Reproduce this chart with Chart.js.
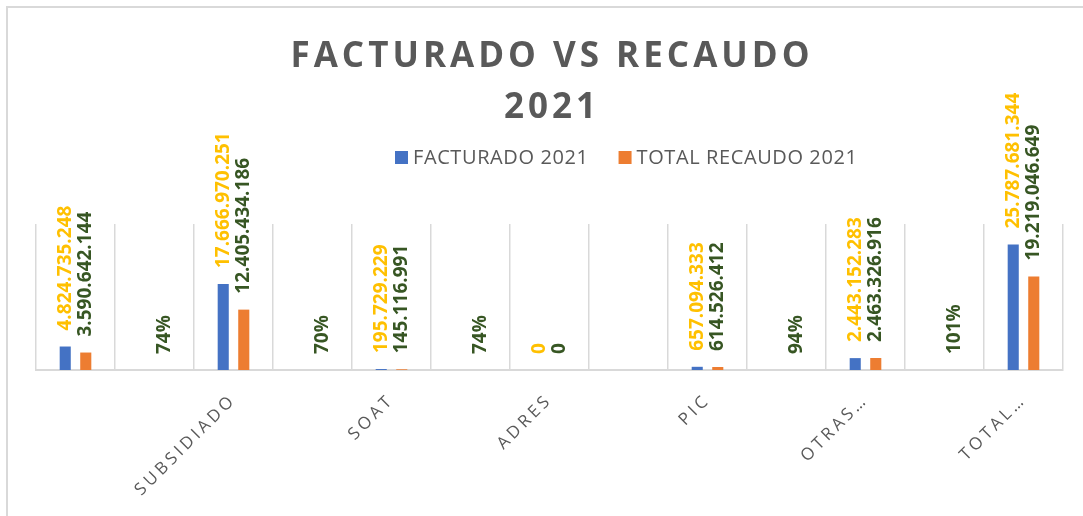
<!DOCTYPE html>
<html>
<head>
<meta charset="utf-8">
<script src="https://cdn.jsdelivr.net/npm/chart.js@4/dist/chart.umd.min.js"></script>
<style>
  body { margin: 0; background: #ffffff; }
  canvas { display: block; }
</style>
</head>
<body>
<canvas id="myChart" width="1083" height="516"></canvas>
<script>
// categories as they show on the axis (the "%" rows have no label)
var categories = ["", "", "SUBSIDIADO", "", "SOAT", "", "ADRES", "", "PIC", "", "OTRAS…", "", "TOTAL…"];
var facturado = [4824735248, null, 17666970251, null, 195729229, null, 0, null, 657094333, null, 2443152283, null, 25787681344];
var recaudo = [3590642144, null, 12405434186, null, 145116991, null, 0, null, 614526412, null, 2463326916, null, 19219046649];
var porcentaje = [null, 0.74, null, 0.70, null, 0.74, null, null, null, 0.94, null, 1.01, null];
var seriesNames = ["FACTURADO 2021", "TOTAL RECAUDO 2021"];
var seriesColors = ["#4472C4", "#ED7D31"];
var labelColors = ["#FFC000", "#375623"];
var titleLines = ["FACTURADO VS RECAUDO", "2021"];

// percentages live in the recaudo series, like the sheet does
var recaudoData = recaudo.map(function(v, i) {
  return v !== null ? v : porcentaje[i];
});

function formatValue(v)
{
  if (v > 0 && v < 5)
    return Math.round(v * 100) + "%";
  return String(v).replace(/\B(?=(\d{3})+(?!\d))/g, ".");
}

var frame = {
  id: "frame",
  beforeDraw: function(chart) {
    var ctx = chart.ctx;
    ctx.save();
    ctx.fillStyle = "#ffffff";
    ctx.fillRect(0, 0, chart.width, chart.height);
    ctx.strokeStyle = "#d9d9d9";
    ctx.lineWidth = 2;
    ctx.beginPath();
    ctx.moveTo(7, chart.height);
    ctx.lineTo(7, 7);
    ctx.lineTo(chart.width, 7);
    ctx.stroke();
    ctx.restore();
    // spaced letters for the axis labels
    ctx.letterSpacing = "3.5px";
  },
  beforeDatasetsDraw: function(chart) {
    chart.ctx.letterSpacing = "0px";
  },
  afterDatasetsDraw: function(chart) {
    var ctx = chart.ctx;
    ctx.save();
    ctx.font = "bold 19px 'Open Sans'";
    ctx.textAlign = "left";
    ctx.textBaseline = "middle";
    chart.data.datasets.forEach(function(ds, i) {
      var meta = chart.getDatasetMeta(i);
      meta.data.forEach(function(bar, j) {
        var v = ds.data[j];
        if (v === null || v === undefined) return;
        ctx.save();
        ctx.fillStyle = labelColors[i];
        ctx.translate(bar.x, bar.y - 16);
        ctx.rotate(-Math.PI / 2);
        ctx.fillText(formatValue(v), 0, 0);
        ctx.restore();
      });
    });
    ctx.restore();
  },
  afterDraw: function(chart) {
    var ctx = chart.ctx;
    ctx.save();
    ctx.fillStyle = "#595959";
    ctx.font = "bold 35px 'Open Sans'";
    ctx.letterSpacing = "4px";
    ctx.textAlign = "center";
    ctx.textBaseline = "alphabetic";
    ctx.fillText(titleLines[0], 552, 67);
    ctx.fillText(titleLines[1], 552, 118);

    // legend
    ctx.font = "20px 'Open Sans'";
    ctx.letterSpacing = "0.6px";
    ctx.textAlign = "left";
    ctx.textBaseline = "middle";
    var x = 395;
    var y = 157;
    seriesNames.forEach(function(name, i) {
      ctx.fillStyle = seriesColors[i];
      ctx.fillRect(x, y - 6, 13, 13);
      x += 18;
      ctx.fillStyle = "#595959";
      ctx.fillText(name, x, y + 1);
      x += ctx.measureText(name).width + 30;
    });
    ctx.restore();
    ctx.letterSpacing = "0px";
  }
};

new Chart("myChart", {
  type: "bar",
  data: {
    labels: categories,
    datasets: [{
      label: seriesNames[0],
      data: facturado,
      backgroundColor: seriesColors[0],
      categoryPercentage: 0.52,
      barPercentage: 0.54
    }, {
      label: seriesNames[1],
      data: recaudoData,
      backgroundColor: seriesColors[1],
      categoryPercentage: 0.52,
      barPercentage: 0.54
    }]
  },
  options: {
    responsive: false,
    animation: false,
    layout: {
      padding: { top: 224, left: 36, right: 20, bottom: 0 }
    },
    plugins: {
      legend: { display: false },
      title: { display: false },
      tooltip: { enabled: false }
    },
    scales: {
      x: {
        grid: {
          offset: true,
          color: "#d9d9d9",
          lineWidth: 1.5,
          drawTicks: false
        },
        border: { color: "#d9d9d9", width: 2 },
        ticks: {
          autoSkip: false,
          minRotation: 45,
          maxRotation: 45,
          padding: 20,
          color: "#595959",
          font: { family: "'Open Sans'", size: 17 }
        },
        afterFit: function(scale) {
          scale.height = 146;
        }
      },
      y: {
        display: false,
        min: 0,
        max: 30000000000
      }
    }
  },
  plugins: [frame]
});
</script>
</body>
</html>
